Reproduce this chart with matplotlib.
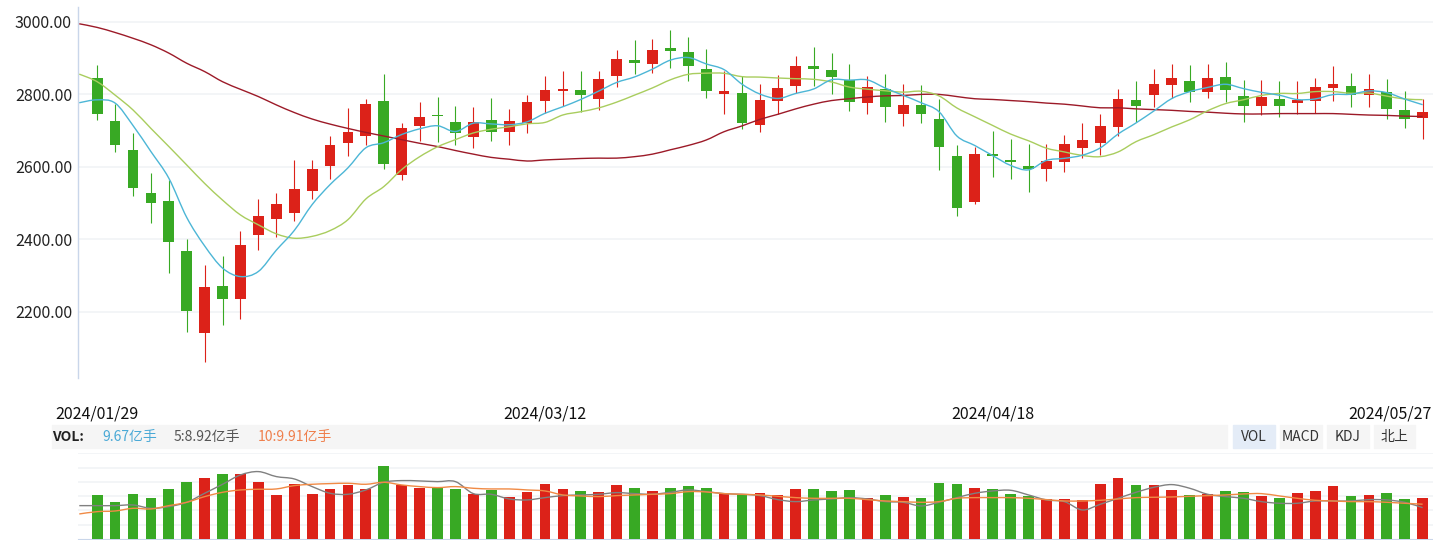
import numpy as np
import matplotlib
matplotlib.use('Agg')
import matplotlib.pyplot as plt
from matplotlib.patches import Rectangle, PathPatch
from matplotlib.path import Path

plt.rcParams['font.family'] = ['Noto Sans CJK SC', 'DejaVu Sans']

# ---- data (75 trading days, 2024/01/29 .. 2024/05/27) ----
dates = ['2024/01/29', '2024/03/12', '2024/04/18', '2024/05/27']
date_idx = [0, 25, 50, 74]

opens = [2845, 2727, 2647, 2528, 2506, 2368, 2142, 2271, 2236, 2413,
         2457, 2473, 2534, 2603, 2667, 2686, 2782, 2578, 2714, 2740,
         2724, 2683, 2729, 2697, 2721, 2783, 2810, 2812, 2788, 2852,
         2895, 2885, 2928, 2917, 2870, 2802, 2804, 2716, 2783, 2824,
         2879, 2867, 2840, 2775, 2815, 2747, 2771, 2732, 2630, 2504,
         2633, 2619, 2602, 2595, 2614, 2653, 2667, 2711, 2785, 2797,
         2827, 2837, 2808, 2848, 2796, 2769, 2787, 2775, 2783, 2819,
         2823, 2797, 2807, 2757, 2736]
closes = [2745, 2661, 2542, 2501, 2393, 2203, 2268, 2236, 2384, 2464,
          2497, 2539, 2594, 2660, 2696, 2774, 2609, 2707, 2738, 2739,
          2694, 2724, 2697, 2727, 2779, 2812, 2815, 2797, 2843, 2898,
          2888, 2923, 2921, 2879, 2810, 2809, 2722, 2785, 2818, 2879,
          2871, 2849, 2780, 2821, 2766, 2771, 2747, 2656, 2485, 2635,
          2631, 2612, 2595, 2616, 2663, 2674, 2713, 2787, 2769, 2829,
          2845, 2808, 2845, 2813, 2769, 2793, 2769, 2785, 2821, 2829,
          2798, 2815, 2761, 2733, 2751]
highs = [2881, 2773, 2693, 2583, 2564, 2401, 2329, 2354, 2423, 2511,
         2528, 2619, 2619, 2685, 2762, 2787, 2856, 2721, 2779, 2793,
         2768, 2765, 2790, 2760, 2798, 2851, 2865, 2865, 2865, 2923,
         2950, 2953, 2978, 2959, 2925, 2865, 2851, 2829, 2854, 2906,
         2931, 2914, 2884, 2851, 2856, 2829, 2826, 2787, 2660, 2655,
         2699, 2677, 2663, 2663, 2688, 2721, 2746, 2815, 2837, 2870,
         2884, 2881, 2884, 2890, 2840, 2840, 2837, 2837, 2845, 2879,
         2859, 2856, 2843, 2809, 2787]
lows = [2728, 2642, 2520, 2446, 2308, 2145, 2062, 2164, 2181, 2371,
        2407, 2451, 2511, 2566, 2631, 2659, 2595, 2564, 2671, 2669,
        2661, 2653, 2672, 2661, 2694, 2748, 2768, 2751, 2757, 2821,
        2856, 2859, 2873, 2837, 2790, 2746, 2705, 2696, 2746, 2804,
        2823, 2801, 2754, 2746, 2724, 2713, 2721, 2591, 2465, 2496,
        2573, 2567, 2531, 2562, 2587, 2623, 2633, 2686, 2724, 2765,
        2790, 2779, 2790, 2779, 2724, 2743, 2738, 2747, 2748, 2782,
        2765, 2765, 2733, 2707, 2677]

# moving averages, one value per slot from the day before the first candle
ma5 = [2777, 2785, 2776, 2714, 2642,
       2568.4, 2460.0, 2381.4, 2320.2, 2296.8, 2311.0, 2369.8, 2424.0, 2495.6, 2550.8,
       2597.2, 2652.6, 2666.6, 2689.2, 2704.8, 2713.4, 2697.4, 2720.4, 2718.4, 2716.2,
       2724.2, 2747.8, 2766.0, 2786.0, 2809.2, 2833.0, 2848.2, 2869.8, 2894.6, 2901.8,
       2884.2, 2868.4, 2828.2, 2801.0, 2788.8, 2802.6, 2815.0, 2840.4, 2839.4, 2840.0,
       2817.4, 2797.4, 2777.0, 2752.2, 2685.0, 2658.8, 2630.8, 2603.8, 2591.6, 2617.8,
       2623.4, 2632.0, 2652.2, 2690.6, 2721.2, 2754.4, 2788.6, 2807.6, 2819.2, 2828.0,
       2816.0, 2805.6, 2797.8, 2785.8, 2787.4, 2799.4, 2800.4, 2809.6, 2804.8, 2787.2, 2771.6]
ma10 = [2856, 2835, 2798, 2757, 2706, 2656, 2605, 2554, 2508, 2467,
        2439.7, 2414.9, 2402.7, 2407.9, 2423.8, 2454.1, 2511.2, 2545.3, 2592.4, 2627.8,
        2655.3, 2675.0, 2693.5, 2703.8, 2710.5, 2718.8, 2722.6, 2743.2, 2752.2, 2762.7,
        2778.6, 2798.0, 2817.9, 2840.3, 2855.5, 2858.6, 2858.3, 2849.0, 2847.8, 2845.3,
        2843.4, 2841.7, 2834.3, 2820.2, 2814.4, 2810.0, 2806.2, 2808.7, 2795.8, 2762.5,
        2738.1, 2714.1, 2690.4, 2671.9, 2651.4, 2641.1, 2631.4, 2628.0, 2641.1, 2669.5,
        2688.9, 2710.3, 2729.9, 2754.9, 2774.6, 2785.2, 2797.1, 2802.7, 2802.5, 2807.7,
        2807.7, 2803.0, 2803.7, 2795.3, 2787.3, 2785.5]
ma60 = [2995, 2985, 2971, 2955, 2937, 2914, 2886, 2863, 2835, 2814,
        2794, 2771, 2750, 2732, 2718, 2706, 2695, 2685, 2675, 2665,
        2656, 2645, 2635, 2626, 2621, 2616, 2619, 2621, 2623, 2624,
        2624, 2628, 2635, 2647, 2659, 2674, 2697, 2713, 2731, 2745,
        2760, 2773, 2783, 2788, 2793, 2796, 2797, 2800, 2800, 2794,
        2788, 2786, 2783, 2780, 2776, 2773, 2768, 2763, 2763, 2760,
        2758, 2756, 2753, 2751, 2748, 2746, 2746, 2747, 2747, 2747,
        2747, 2745, 2743, 2742, 2740, 2739]

# volume (亿手) and its moving averages
volume = [10.38, 8.73, 10.61, 9.67, 11.79, 13.44, 14.38, 15.33, 15.33, 13.44,
          10.38, 12.97, 10.61, 11.79, 12.73, 11.79, 17.21, 12.73, 12.03, 12.03,
          11.79, 10.61, 11.55, 9.90, 11.08, 12.97, 11.79, 11.32, 11.08, 12.73,
          12.03, 11.32, 12.03, 12.50, 12.03, 10.61, 10.61, 10.85, 10.38, 11.79,
          11.79, 11.32, 11.55, 9.67, 10.38, 9.90, 9.67, 13.20, 12.97, 12.03,
          11.79, 10.61, 10.14, 9.43, 9.43, 9.20, 12.97, 14.38, 12.73, 12.73,
          11.55, 10.38, 10.61, 11.32, 11.08, 10.14, 9.67, 10.85, 11.32, 12.50,
          10.14, 10.38, 10.85, 9.43, 9.67]
vol_ma5 = [9.50, 9.50, 9.50, 9.69, 8.74, 9.22, 10.45, 13.02, 15.58, 18.24,
           19.19, 17.77, 17.10, 14.92, 13.02, 12.73, 13.97, 16.15, 16.63, 16.53,
           16.34, 16.34, 12.92, 12.73, 11.40, 11.12, 11.78, 12.35, 12.54, 12.73,
           13.21, 12.92, 12.73, 13.30, 13.97, 13.49, 12.92, 12.73, 12.35, 11.21,
           10.64, 11.12, 11.40, 11.78, 11.40, 10.64, 10.45, 9.41, 10.45, 11.78,
           13.02, 13.68, 13.87, 12.54, 11.12, 10.64, 8.27, 9.88, 11.59, 13.30,
           14.73, 15.49, 14.44, 12.73, 12.07, 11.59, 10.64, 10.17, 10.17, 10.83,
           10.83, 10.83, 11.21, 11.12, 10.45, 8.92]
vol_ma10 = [7.13, 7.79, 7.98, 8.74, 8.55, 9.50, 10.45, 12.07, 13.30, 13.97,
            14.16, 14.25, 15.20, 15.58, 15.77, 15.87, 15.58, 16.15, 15.39, 14.92,
            14.63, 14.92, 14.44, 14.25, 14.25, 13.97, 13.68, 12.54, 12.26, 12.07,
            12.35, 12.54, 12.73, 12.92, 13.49, 13.40, 12.92, 12.73, 12.54, 12.16,
            11.78, 11.59, 11.59, 11.59, 11.21, 10.83, 10.64, 10.45, 10.64, 11.59,
            11.78, 11.78, 11.78, 11.59, 11.21, 10.83, 10.83, 11.02, 11.40, 11.78,
            11.88, 11.97, 12.16, 12.35, 12.54, 12.83, 12.92, 12.26, 11.59, 11.02,
            10.83, 10.64, 10.64, 10.45, 10.17, 9.91]

price_ticks = [2200, 2400, 2600, 2800, 3000]

RED = '#dc2219'
GREEN = '#38a924'
GRID = '#f1f3f6'
AXIS = '#c9d6ea'

W, H = 1433, 540
fig = plt.figure(figsize=(W / 100, H / 100), dpi=100)


def frac(x0, y0, x1, y1):
    # pixel box (top-left origin) -> figure fraction rect
    return [x0 / W, 1 - y1 / H, (x1 - x0) / W, (y1 - y0) / H]


def smooth_line(ax, xs, ys, color, lw=1.0):
    # draw through the data points with Catmull-Rom style bezier segments
    xs = np.asarray(xs, float)
    ys = np.asarray(ys, float)
    n = len(xs)
    verts = [(xs[0], ys[0])]
    codes = [Path.MOVETO]
    t = 1 / 6
    for i in range(n - 1):
        a = max(i - 1, 0)
        b = min(i + 2, n - 1)
        c1 = (xs[i] + (xs[i + 1] - xs[a]) * t, ys[i] + (ys[i + 1] - ys[a]) * t)
        c2 = (xs[i + 1] - (xs[b] - xs[i]) * t, ys[i + 1] - (ys[b] - ys[i]) * t)
        verts += [c1, c2, (xs[i + 1], ys[i + 1])]
        codes += [Path.CURVE4] * 3
    ax.add_patch(PathPatch(Path(verts, codes), fill=False, edgecolor=color,
                           lw=lw, zorder=4))


# ---- candlestick panel ----
ax = fig.add_axes(frac(77.5, 7, W, 378))
o = np.array(opens, float)
c = np.array(closes, float)
x = np.arange(len(o))
cols = np.where(c >= o, RED, GREEN)
ax.vlines(x, lows, highs, colors=cols, lw=0.8, zorder=3)
ax.bar(x, np.maximum(np.abs(c - o), 4), bottom=np.minimum(o, c), width=0.6,
       color=cols, linewidth=0, zorder=3)

xm = np.arange(-1, len(o))
smooth_line(ax, xm, ma60, '#9c1a28')
smooth_line(ax, xm, ma10, '#a9cd5e')
smooth_line(ax, xm, ma5, '#4cb6d6')

ax.set_xlim(-1.1, 74.58)
ax.set_ylim(2016.7, 3041.4)
ax.set_yticks(price_ticks)
ax.set_yticklabels([f'{v:.2f}' for v in price_ticks], fontsize=11.5, color='#222222')
ax.tick_params(axis='y', length=0, pad=4)
ax.set_xticks([])
ax.grid(axis='y', color=GRID, lw=1.2)
ax.set_axisbelow(True)
for s in ['top', 'right', 'bottom']:
    ax.spines[s].set_visible(False)
ax.spines['left'].set_color(AXIS)
ax.spines['left'].set_linewidth(1.0)

# date labels under the price panel
for i, d in zip(date_idx, dates):
    xp = 77.5 + (i + 1.1) * (W - 77.5) / 75.68
    ha = 'center'
    if i == date_idx[-1]:
        xp, ha = W - 1, 'right'
    fig.text(xp / W, 1 - 414 / H, d, ha=ha, va='center', fontsize=11.5, color='#111111')

# ---- indicator header bar ----
fig.patches.append(Rectangle((52 / W, 1 - 448 / H), (1227 - 52) / W, 23 / H,
                             transform=fig.transFigure, color='#f5f5f5', zorder=0))
yb = 1 - 437 / H
fig.text(52 / W, yb, 'VOL:', fontsize=10, fontweight='bold', color='#222222', va='center')
fig.text(102 / W, yb, '9.67亿手', fontsize=10, color='#4aa9d6', va='center')
fig.text(174 / W, yb, '5:8.92亿手', fontsize=10, color='#555555', va='center')
fig.text(258 / W, yb, '10:9.91亿手', fontsize=10, color='#ef7f4c', va='center')

buttons = [('VOL', 1233, 1275, '#e4ecf7'), ('MACD', 1280, 1322, '#f5f5f5'),
           ('KDJ', 1327, 1369, '#f5f5f5'), ('北上', 1374, 1415, '#f5f5f5')]
for label, bx0, bx1, bg in buttons:
    fig.patches.append(Rectangle((bx0 / W, 1 - 448 / H), (bx1 - bx0) / W, 23 / H,
                                 transform=fig.transFigure, color=bg, zorder=0))
    fig.text((bx0 + bx1) / 2 / W, yb, label, fontsize=10, color='#333333',
             ha='center', va='center')

# ---- volume panel ----
axv = fig.add_axes(frac(77.5, 453.3, W, 539))
axv.bar(x, volume, width=0.6, color=cols, linewidth=0, zorder=3)
axv.set_xlim(-1.1, 74.58)
axv.set_ylim(0, 20.2)
axv.set_yticks([3.37, 6.73, 10.1, 13.47, 16.83, 20.2])
axv.set_yticklabels([])
axv.set_xticks([])
axv.tick_params(length=0)
axv.grid(axis='y', color=GRID, lw=1.2)
axv.set_axisbelow(True)
for s in ['top', 'right', 'left']:
    axv.spines[s].set_visible(False)
axv.spines['bottom'].set_color(AXIS)

axl = axv.twinx()
smooth_line(axl, xm, vol_ma5, '#808080')
smooth_line(axl, xm, vol_ma10, '#f08a45')
axl.set_ylim(0, 24.4)
axl.set_xlim(-1.1, 74.58)
axl.set_yticks([])
for s in axl.spines.values():
    s.set_visible(False)

fig.savefig('out.png', dpi=100)
